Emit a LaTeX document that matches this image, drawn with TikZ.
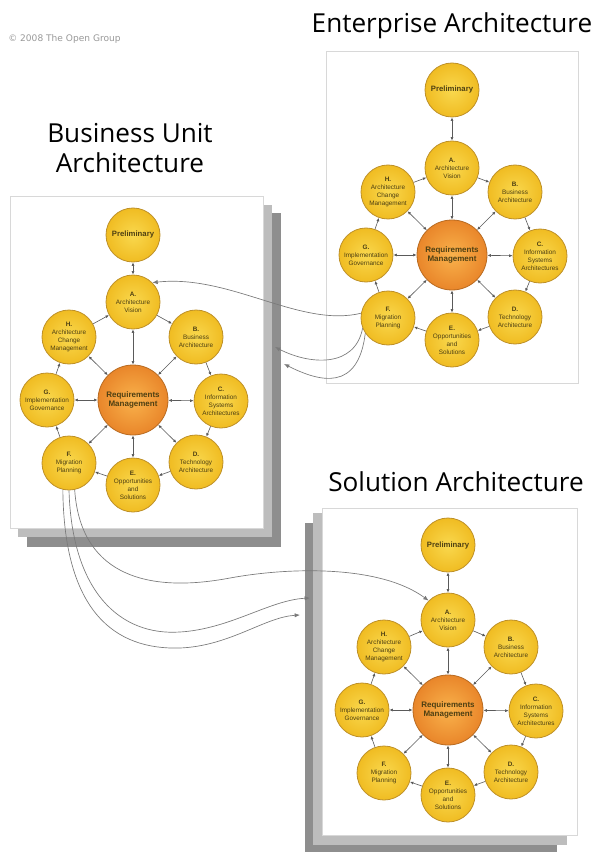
\documentclass[tikz,border=0pt]{standalone}
\usepackage{fontspec}
\setmainfont{Liberation Sans}
\newfontfamily\titlefont{Open Sans}
\newfontfamily\notefont{DejaVu Sans}
\usetikzlibrary{arrows.meta}
\definecolor{cyin}{HTML}{F9D84E}
\definecolor{cyout}{HTML}{F0BC22}
\definecolor{cbord}{HTML}{BE9028}
\definecolor{corin}{HTML}{F9B24C}
\definecolor{corout}{HTML}{E9862A}
\definecolor{corbord}{HTML}{B86A20}
\definecolor{ctext}{HTML}{4D3F12}
\definecolor{clink}{HTML}{5A5A5A}
\definecolor{cflow}{HTML}{7A7A7A}
\definecolor{cpanel}{HTML}{D8D8D8}
\definecolor{cshadl}{HTML}{BDBDBD}
\definecolor{cshadd}{HTML}{8E8E8E}
\tikzset{
  phase/.style={circle, draw=cbord, line width=0.6pt, inner color=cyin, outer color=cyout,
    minimum size=40.5pt, inner sep=0pt, align=center, text=ctext,
    font=\fontsize{4.8}{6}\selectfont},
  prelim/.style={phase, font=\bfseries\fontsize{5.8}{7}\selectfont},
  reqm/.style={phase, minimum size=52.5pt, inner color=corin, outer color=corout,
    draw=corbord, font=\bfseries\fontsize{6}{7.4}\selectfont},
  link/.style={draw=clink, line width=0.45pt, -{Latex[length=2.6pt,width=2.2pt]}},
  both/.style={draw=clink, line width=0.45pt,
    {Latex[length=2.6pt,width=2.2pt]}-{Latex[length=2.6pt,width=2.2pt]}},
  flow/.style={draw=cflow, line width=0.5pt, -{Latex[length=4pt,width=3.2pt]}},
  panel/.style={fill=white, draw=cpanel, line width=0.5pt},
  shadl/.style={fill=cshadl, draw=none},
  shadd/.style={fill=cshadd, draw=none},
  title/.style={font=\titlefont\fontsize{19.6}{22}\selectfont, anchor=base, inner sep=0pt},
}
% #1 prefix, #2/#3 centre, #4 y offset of phase A
\newcommand\admcycle[4]{%
  \begin{scope}[shift={(#2,#3)}]
    \node[prelim] (#1P) at (0,-165) {Preliminary};
    \node[phase] (#1A) at (0,#4) {\textbf{A.}\\Architecture\\Vision};
    \node[phase] (#1B) at (63,-63) {\textbf{B.}\\Business\\Architecture};
    \node[phase] (#1C) at (88,1) {\textbf{C.}\\Information\\Systems\\Architectures};
    \node[phase] (#1D) at (63,62) {\textbf{D.}\\Technology\\Architecture};
    \node[phase] (#1E) at (0,85) {\textbf{E.}\\Opportunities\\and\\Solutions};
    \node[phase] (#1F) at (-64,63) {\textbf{F.}\\Migration\\Planning};
    \node[phase] (#1G) at (-86,0) {\textbf{G.}\\Implementation\\Governance};
    \node[phase] (#1H) at (-64,-63) {\textbf{H.}\\Architecture\\Change\\Management};
    \node[reqm] (#1R) at (0,0) {Requirements\\Management};
  \end{scope}
  \draw[both] (#1P) -- (#1A);
  \foreach \n in {A,B,C,D,E,F,G,H} {\draw[both] (#1R) -- (#1\n);}
  \draw[link] (#1A) -- (#1B);
  \draw[link] (#1B) -- (#1C);
  \draw[link] (#1C) -- (#1D);
  \draw[link] (#1D) -- (#1E);
  \draw[link] (#1E) -- (#1F);
  \draw[link] (#1F) -- (#1G);
  \draw[link] (#1G) -- (#1H);
  \draw[link] (#1H) -- (#1A);
}
\begin{document}
\begin{tikzpicture}[x=0.75pt,y=-0.75pt]
  \useasboundingbox[fill=white] (0,0) rectangle (598,852);
  % copyright
  \node[anchor=base west, inner sep=0pt, text=black!40, font=\notefont\fontsize{6.8}{7}\selectfont]
    (copy) at (8,42) {© 2008 The Open Group};
  % titles
  \node[title] (tEnt) at (452,33) {Enterprise Architecture};
  \node[title] (tBU1) at (130,143) {Business Unit};
  \node[title] (tBU2) at (130,173) {Architecture};
  \node[title] (tSol) at (456,491) {Solution Architecture};
  % enterprise panel
  \path[panel] (326,51) rectangle (578,383);
  % business unit panel with shadows
  \path[shadd] (27,213) rectangle (281,547);
  \path[shadl] (18,205) rectangle (272,537);
  \path[panel] (10,196) rectangle (263,528);
  % solution panel with shadows
  \path[shadd] (305,523) rectangle (557,852);
  \path[shadl] (313,513) rectangle (567,845);
  \path[panel] (322,508) rectangle (577,835);
  % cycles
  \admcycle{e}{452}{255}{-87}
  \admcycle{b}{133}{400}{-98}
  \admcycle{s}{448}{710}{-90}
  % connectors between panels
  \coordinate (buIn1) at (275,347);
  \coordinate (buIn2) at (284,364);
  \coordinate (soIn1) at (310,598);
  \coordinate (soIn2) at (300,615);
  \draw[flow] (eF.170) .. controls (300,328) and (230,274) .. (bA.45);
  \draw[flow] (eF.202) .. controls (355,368) and (310,365) .. (buIn1);
  \draw[flow] (eF.214) .. controls (358,392) and (320,382) .. (buIn2);
  \draw[flow] (bF.282) .. controls (80,570) and (140,595) .. (230,578)
                        .. controls (290,567) and (380,565) .. (sA.135);
  \draw[flow] (bF.270) .. controls (72,592) and (120,636) .. (180,632)
                        .. controls (230,629) and (270,600) .. (soIn1);
  \draw[flow] (bF.257) .. controls (64,612) and (115,650) .. (180,648)
                        .. controls (230,646) and (265,617) .. (soIn2);
\end{tikzpicture}
\end{document}
